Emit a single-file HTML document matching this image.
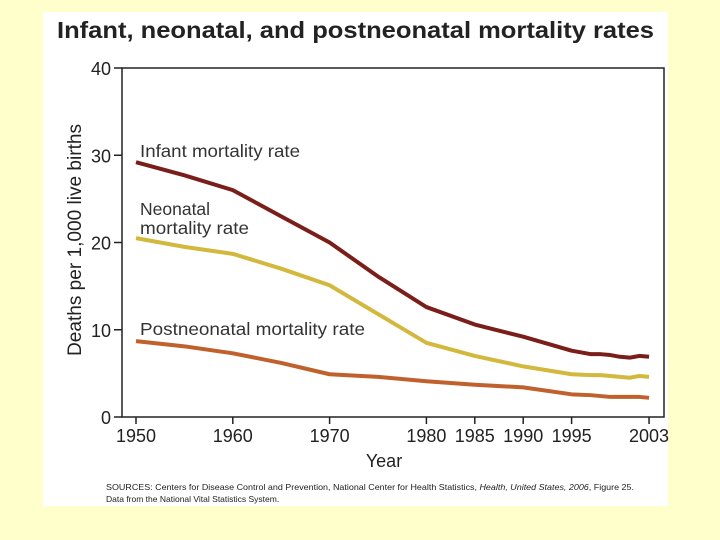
<!DOCTYPE html>
<html><head><meta charset="utf-8"><style>
body{margin:0;background:#ffffcc;width:720px;height:540px;overflow:hidden;font-family:"Liberation Sans",sans-serif}
#panel{position:absolute;left:43px;top:12px;width:625px;height:494px;background:#fff}
</style></head><body>
<div id="panel"></div>
<svg id="c" width="720" height="540" style="position:absolute;left:0;top:0" font-family="Liberation Sans, sans-serif">
<text x="57" y="38" font-size="23" font-weight="bold" fill="#222" textLength="597" lengthAdjust="spacingAndGlyphs">Infant, neonatal, and postneonatal mortality rates</text>
<rect x="122" y="68" width="542" height="349" fill="none" stroke="#222" stroke-width="1.5"/>
<text transform="translate(81,240) rotate(-90)" text-anchor="middle" font-size="19" fill="#222" textLength="232" lengthAdjust="spacingAndGlyphs">Deaths per 1,000 live births</text>
<text x="384" y="467" text-anchor="middle" font-size="18" fill="#222">Year</text>
<text x="106" y="490" font-size="8.5" fill="#222" textLength="528" lengthAdjust="spacingAndGlyphs">SOURCES: Centers for Disease Control and Prevention, National Center for Health Statistics, <tspan font-style="italic">Health, United States, 2006</tspan>, Figure 25.</text>
<text x="106" y="502" font-size="8.5" fill="#222">Data from the National Vital Statistics System.</text>
<text x="140" y="157" font-size="17.5" fill="#333" textLength="160" lengthAdjust="spacingAndGlyphs">Infant mortality rate</text>
<text x="140" y="215" font-size="17.5" fill="#333">Neonatal</text>
<text x="140" y="234" font-size="17.5" fill="#333" textLength="109" lengthAdjust="spacingAndGlyphs">mortality rate</text>
<text x="140" y="335" font-size="17.5" fill="#333" textLength="225" lengthAdjust="spacingAndGlyphs">Postneonatal mortality rate</text>
<g id="g"></g>
</svg>
<script>
const yTicks=[0,10,20,30,40];
const xTicks=[1950,1960,1970,1980,1985,1990,1995,2003];
const years=[1950,1955,1960,1965,1970,1975,1980,1985,1990,1995,1997,1998,1999,2000,2001,2002,2003];
const infant=[29.2,27.7,26.0,23.0,20.0,16.1,12.6,10.6,9.2,7.6,7.2,7.2,7.1,6.9,6.8,7.0,6.9];
const neonatal=[20.5,19.5,18.7,17.0,15.1,11.8,8.5,7.0,5.8,4.9,4.8,4.8,4.7,4.6,4.5,4.7,4.6];
const postneonatal=[8.7,8.1,7.3,6.2,4.9,4.6,4.1,3.7,3.4,2.6,2.5,2.4,2.3,2.3,2.3,2.3,2.2];
const X=y=>136+(y-1950)*9.68, Y=v=>417-v*8.725;
const g=document.getElementById('g'),NS='http://www.w3.org/2000/svg';
function el(t,a){const e=document.createElementNS(NS,t);for(const k in a)e.setAttribute(k,a[k]);g.appendChild(e);return e;}
yTicks.forEach(v=>{
 const l=el('line',{x1:114,x2:122,y1:Y(v),y2:Y(v),stroke:'#222','stroke-width':1.5});
 
 
 const t=el('text',{x:111,y:Y(v)+7,'text-anchor':'end','font-size':18,fill:'#222'});t.textContent=v;
 
 
});
xTicks.forEach(v=>{
 const l=el('line',{x1:X(v),x2:X(v),y1:417,y2:424,stroke:'#222','stroke-width':1.5});
 
 
 const t=el('text',{x:X(v),y:442,'text-anchor':'middle','font-size':18,fill:'#222'});t.textContent=v;
 
 
});
[[infant,'#7a1e1a','infant-line'],[neonatal,'#d2b83c','neonatal-line'],[postneonatal,'#c0602c','postneonatal-line']].forEach(([d,c,n])=>{
 const p=el('polyline',{points:d.map((v,i)=>X(years[i])+','+Y(v)).join(' '),fill:'none',stroke:c,'stroke-width':4,'stroke-linejoin':'round'});
 
 
});
</script>
</body></html>
